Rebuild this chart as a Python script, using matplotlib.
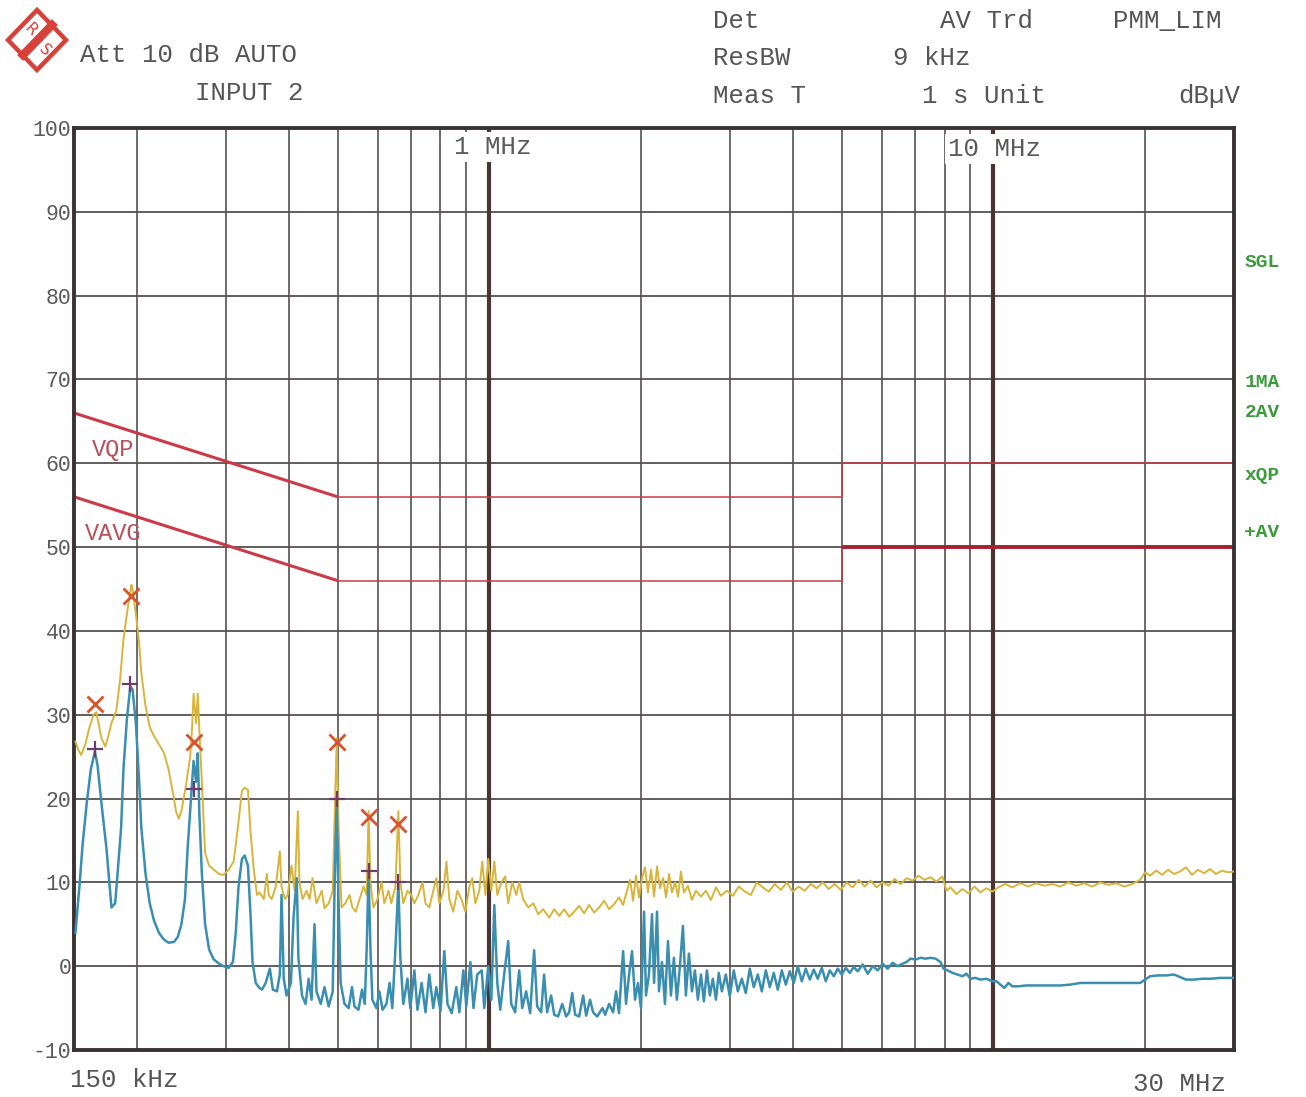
import matplotlib
matplotlib.use("Agg")
import matplotlib.pyplot as plt
import matplotlib.transforms as mtransforms
from matplotlib.patches import Polygon
from matplotlib.ticker import NullLocator

W, H = 1306, 1097
MONO = ["Liberation Mono", "DejaVu Sans Mono"]

# peak trace (yellow), MHz / dBuV
pk_freq = [0.151, 0.153, 0.155, 0.158, 0.161, 0.164, 0.166, 0.168, 0.170, 0.173,
           0.175, 0.178, 0.182, 0.185, 0.188, 0.192, 0.195, 0.196, 0.199, 0.202,
           0.204, 0.208, 0.212, 0.216, 0.221, 0.226, 0.231, 0.236, 0.239, 0.242,
           0.245, 0.250, 0.255, 0.257, 0.259, 0.262, 0.264, 0.266, 0.269, 0.273,
           0.278, 0.284, 0.291, 0.297, 0.304, 0.311, 0.317, 0.323, 0.327, 0.332,
           0.336, 0.341, 0.346, 0.350, 0.357, 0.362, 0.365, 0.370, 0.377, 0.384,
           0.387, 0.393, 0.398, 0.405, 0.411, 0.417, 0.420, 0.426, 0.434, 0.440,
           0.446, 0.454, 0.465, 0.471, 0.480, 0.489, 0.493, 0.498, 0.502, 0.509,
           0.518, 0.528, 0.535, 0.543, 0.553, 0.563, 0.571, 0.576, 0.581, 0.589,
           0.600, 0.611, 0.619, 0.631, 0.639, 0.651, 0.660, 0.666, 0.675, 0.688,
           0.700, 0.710, 0.723, 0.737, 0.747, 0.760, 0.774, 0.785, 0.796, 0.811,
           0.822, 0.833, 0.848, 0.864, 0.880, 0.896, 0.913, 0.925, 0.938, 0.955,
           0.968, 0.982, 0.995, 1.009, 1.023, 1.037, 1.056, 1.075, 1.090, 1.110,
           1.131, 1.146, 1.167, 1.194, 1.222, 1.250, 1.279, 1.314, 1.345, 1.376,
           1.407, 1.440, 1.473, 1.507, 1.542, 1.577, 1.614, 1.651, 1.689, 1.728,
           1.768, 1.808, 1.842, 1.875, 1.902, 1.928, 1.954, 1.981, 2.008, 2.036,
           2.064, 2.093, 2.122, 2.151, 2.181, 2.211, 2.242, 2.272, 2.303, 2.336,
           2.368, 2.399, 2.432, 2.477, 2.523, 2.569, 2.629, 2.689, 2.751, 2.815,
           2.879, 2.959, 3.041, 3.125, 3.212, 3.301, 3.392, 3.487, 3.583, 3.683,
           3.785, 3.890, 3.998, 4.108, 4.222, 4.340, 4.460, 4.583, 4.711, 4.841,
           4.976, 5.114, 5.256, 5.401, 5.551, 5.705, 5.863, 6.027, 6.193, 6.365,
           6.541, 6.723, 6.910, 7.100, 7.297, 7.500, 7.709, 7.923, 8.068, 8.216,
           8.444, 8.679, 8.920, 9.166, 9.421, 9.682, 9.952, 10.227, 10.559, 10.902,
           11.307, 11.727, 12.162, 12.615, 13.083, 13.568, 14.074, 14.594, 15.138, 15.699,
           16.281, 16.888, 17.513, 18.166, 18.840, 19.540, 19.990, 20.451, 21.018, 21.602,
           22.202, 22.818, 23.450, 24.096, 24.763, 25.451, 26.157, 26.883, 27.623, 28.389,
           29.180, 30.0]
pk_level = [26.8, 25.8, 25.2, 26.5, 28.5, 30.0, 30.3, 28.8, 27.2, 26.2,
            27.2, 29.0, 30.5, 34.0, 39.0, 43.0, 45.5, 45.0, 42.0, 38.5,
            35.0, 31.0, 28.5, 27.5, 26.5, 25.5, 23.5, 20.5, 18.5, 17.6,
            18.5, 21.5, 25.0, 28.0, 32.5, 29.0, 32.5, 28.0, 22.0, 13.5,
            12.0, 11.5, 11.0, 10.9, 11.5, 12.5, 16.5, 20.9, 21.3, 21.0,
            16.0, 11.5, 8.5, 8.8, 8.0, 11.0, 8.5, 8.0, 9.5, 13.7,
            9.5, 8.0, 8.5, 12.0, 9.0, 18.5, 10.0, 8.0, 9.0, 8.0,
            10.5, 7.5, 9.0, 6.9, 7.5, 9.0, 17.0, 27.2, 17.0, 7.0,
            7.5, 8.5, 7.0, 6.5, 8.0, 9.5, 8.5, 18.5, 10.0, 7.0,
            8.0, 10.0, 7.5, 9.0, 7.5, 9.5, 18.5, 10.0, 7.5, 9.0,
            8.5, 7.5, 8.5, 10.0, 7.5, 7.0, 9.0, 10.5, 7.5, 9.0,
            12.5, 8.0, 6.5, 9.0, 8.0, 6.5, 9.5, 10.5, 7.5, 9.0,
            12.5, 8.5, 12.8, 9.0, 12.5, 8.5, 10.0, 10.7, 7.5, 10.0,
            8.5, 10.0, 8.0, 7.0, 7.5, 6.2, 6.8, 5.8, 6.8, 6.0,
            6.8, 5.9, 6.5, 7.2, 6.3, 7.3, 6.4, 7.0, 7.8, 6.8,
            7.4, 8.2, 7.3, 9.0, 10.3, 7.8, 10.8, 8.2, 10.5, 11.8,
            8.8, 11.5, 8.3, 11.9, 9.3, 10.5, 8.2, 11.0, 8.8, 10.0,
            8.3, 11.3, 8.8, 9.6, 7.9, 9.0, 8.3, 9.0, 7.9, 9.4,
            8.4, 9.0, 8.4, 9.5, 8.9, 8.5, 10.0, 9.4, 8.9, 9.8,
            9.1, 10.0, 8.9, 9.5, 9.0, 9.8, 9.3, 10.0, 9.2, 9.8,
            9.1, 10.0, 9.4, 10.3, 9.5, 10.2, 9.4, 10.0, 9.6, 10.4,
            9.8, 10.5, 10.2, 10.8, 10.3, 10.6, 10.1, 10.7, 9.0, 9.4,
            8.6, 9.2, 8.7, 9.5, 8.8, 9.3, 8.9, 9.4, 9.8, 9.4,
            9.9, 9.5, 9.9, 9.6, 9.8, 9.5, 10.0, 9.6, 9.9, 9.5,
            10.0, 9.7, 9.9, 9.5, 9.8, 10.3, 11.2, 10.8, 11.4, 10.9,
            11.5, 11.0, 11.3, 11.8, 10.9, 11.5, 11.1, 11.6, 11.0, 11.4,
            11.2, 11.3]

# average trace (blue), MHz / dBuV
av_freq = [0.151, 0.152, 0.154, 0.156, 0.159, 0.162, 0.165, 0.167, 0.170, 0.174,
           0.176, 0.178, 0.181, 0.183, 0.186, 0.188, 0.191, 0.194, 0.196, 0.199,
           0.202, 0.204, 0.208, 0.212, 0.216, 0.221, 0.226, 0.231, 0.237, 0.241,
           0.245, 0.249, 0.252, 0.256, 0.259, 0.262, 0.264, 0.266, 0.269, 0.273,
           0.278, 0.284, 0.291, 0.297, 0.304, 0.310, 0.314, 0.318, 0.323, 0.327,
           0.332, 0.336, 0.339, 0.344, 0.350, 0.354, 0.360, 0.367, 0.372, 0.379,
           0.384, 0.387, 0.391, 0.396, 0.404, 0.409, 0.415, 0.418, 0.425, 0.432,
           0.438, 0.444, 0.450, 0.454, 0.463, 0.471, 0.480, 0.489, 0.493, 0.498,
           0.502, 0.507, 0.516, 0.526, 0.534, 0.540, 0.550, 0.559, 0.566, 0.571,
           0.576, 0.581, 0.586, 0.597, 0.605, 0.614, 0.625, 0.634, 0.642, 0.651,
           0.660, 0.666, 0.675, 0.688, 0.697, 0.710, 0.720, 0.734, 0.747, 0.760,
           0.774, 0.785, 0.800, 0.814, 0.826, 0.842, 0.860, 0.872, 0.888, 0.900,
           0.917, 0.930, 0.946, 0.966, 0.977, 0.995, 1.009, 1.023, 1.037, 1.051,
           1.070, 1.090, 1.105, 1.125, 1.146, 1.162, 1.183, 1.205, 1.227, 1.244,
           1.267, 1.284, 1.302, 1.326, 1.345, 1.369, 1.395, 1.420, 1.440, 1.460,
           1.480, 1.507, 1.535, 1.556, 1.584, 1.606, 1.636, 1.677, 1.697, 1.728,
           1.760, 1.784, 1.808, 1.842, 1.867, 1.893, 1.919, 1.945, 1.972, 1.999,
           2.027, 2.045, 2.073, 2.102, 2.122, 2.151, 2.170, 2.200, 2.230, 2.261,
           2.292, 2.323, 2.355, 2.388, 2.421, 2.454, 2.488, 2.523, 2.557, 2.592,
           2.629, 2.664, 2.701, 2.738, 2.775, 2.815, 2.852, 2.892, 2.945, 2.999,
           3.054, 3.111, 3.168, 3.226, 3.286, 3.346, 3.408, 3.471, 3.535, 3.600,
           3.666, 3.734, 3.803, 3.873, 3.944, 4.017, 4.091, 4.166, 4.243, 4.322,
           4.401, 4.482, 4.565, 4.649, 4.735, 4.822, 4.911, 5.001, 5.094, 5.187,
           5.283, 5.380, 5.504, 5.631, 5.761, 5.894, 6.027, 6.167, 6.309, 6.454,
           6.603, 6.723, 6.848, 7.006, 7.168, 7.333, 7.500, 7.675, 7.852, 7.960,
           8.106, 8.294, 8.485, 8.679, 8.839, 9.002, 9.209, 9.421, 9.682, 9.952,
           10.134, 10.320, 10.510, 10.704, 10.902, 11.203, 11.619, 12.051, 12.499, 12.964,
           13.568, 14.202, 14.864, 15.557, 16.281, 17.044, 18.366, 18.670, 19.540, 19.990,
           20.451, 21.216, 22.004, 22.818, 23.450, 24.096, 24.990, 25.920, 26.883, 28.140,
           29.180, 30.0]
av_level = [4.0, 6.0, 10.0, 14.5, 19.5, 23.5, 25.6, 24.0, 19.5, 14.0,
            10.5, 7.0, 7.5, 11.0, 16.5, 23.5, 29.5, 33.4, 33.0, 29.0,
            22.0, 16.5, 11.0, 7.5, 5.5, 4.0, 3.2, 2.8, 2.9, 3.5,
            5.0, 8.0, 14.0, 20.0, 24.5, 22.0, 25.4, 18.0, 11.0, 5.0,
            2.0, 0.8, 0.3, 0.0, -0.2, 0.5, 4.0, 9.5, 12.8, 13.2,
            12.0, 6.0, 0.5, -2.0, -2.6, -2.8, -2.0, -0.3, -2.8, -3.0,
            -1.0, 8.5, -1.5, -3.5, -2.0, 6.0, 10.5, 1.0, -3.5, -4.5,
            -1.5, -4.0, 5.0, -3.0, -4.5, -2.5, -4.8, -3.0, 9.0, 20.0,
            8.0, -2.0, -4.5, -5.0, -2.5, -4.8, -5.2, -2.8, -4.5, 2.0,
            11.3, 2.0, -4.0, -5.0, -3.0, -5.2, -4.5, -2.0, -5.0, 2.0,
            10.0, 1.0, -4.5, -1.5, -5.0, -0.5, -5.2, -2.0, -5.5, -1.0,
            -5.0, -2.5, -5.4, 1.8, -4.5, -5.6, -2.5, -5.5, -0.5, -4.8,
            0.5, -5.0, -1.0, -0.5, -5.0, 0.0, -4.0, 7.3, -2.0, -5.2,
            -1.0, 3.0, -4.5, -5.5, -0.5, -5.0, -3.0, -5.6, 1.9, -4.8,
            -5.5, -1.0, -5.5, -3.5, -5.8, -6.0, -4.5, -6.0, -5.5, -3.2,
            -5.8, -6.0, -3.5, -5.9, -4.0, -5.5, -6.0, -5.0, -5.8, -4.5,
            -5.5, -3.0, -5.6, 1.8, -4.5, -1.0, 1.8, -4.0, -2.0, -5.0,
            6.5, -3.5, -1.0, 6.2, -2.0, 6.5, -3.0, 0.5, -4.5, 3.0,
            -3.5, 1.0, -4.0, 0.0, 4.8, -3.5, 1.5, -3.0, -0.5, -4.0,
            -1.0, -4.2, -0.5, -3.5, -1.5, -4.0, -0.8, -3.0, -1.0, -3.6,
            -0.5, -3.0, -1.5, -3.2, -0.3, -2.5, -1.0, -3.0, -0.5, -2.5,
            -0.8, -2.8, -0.5, -2.2, -0.6, -2.0, 0.0, -1.8, -0.3, -1.6,
            -0.4, -1.5, -0.2, -1.8, -0.5, -1.2, -0.3, -1.0, -0.2, -0.8,
            -0.1, -0.6, 0.2, -0.9, 0.0, -0.5, 0.3, -0.3, 0.4, 0.0,
            0.3, 0.5, 0.9, 0.8, 1.0, 0.9, 1.0, 0.9, 0.5, -0.3,
            -0.5, -0.8, -1.0, -1.2, -0.9, -1.5, -1.4, -1.6, -1.5, -1.8,
            -1.8, -2.2, -2.6, -2.0, -2.4, -2.4, -2.3, -2.3, -2.3, -2.3,
            -2.3, -2.2, -2.0, -2.0, -2.0, -2.0, -2.0, -2.0, -2.0, -1.6,
            -1.2, -1.1, -1.1, -1.0, -1.3, -1.6, -1.6, -1.5, -1.5, -1.4,
            -1.4, -1.4]

# final measurement markers
qp_mark_freq = [0.165, 0.195, 0.260, 0.498, 0.576, 0.660]
qp_mark_level = [31.3, 44.2, 26.7, 26.8, 17.8, 17.0]
av_mark_freq = [0.165, 0.194, 0.260, 0.498, 0.576, 0.660]
av_mark_level = [25.9, 33.7, 21.1, 20.0, 11.3, 10.1]

# limit lines
lim_seg_freq = [(0.15, 0.5), (0.5, 5.0), (5.0, 5.0), (5.0, 30.0)]
vqp_seg_level = [(66, 56), (56, 56), (56, 60), (60, 60)]
vavg_seg_level = [(56, 46), (46, 46), (46, 50), (50, 50)]

grid_levels = [-10, 0, 10, 20, 30, 40, 50, 60, 70, 80, 90, 100]
grid_minor_freq = [0.2, 0.3, 0.4, 0.5, 0.6, 0.7, 0.8, 0.9,
                   2, 3, 4, 5, 6, 7, 8, 9, 20]
grid_major_freq = [1, 10]

side_labels = ["SGL", "1MA", "2AV", "xQP", "+AV"]
side_levels = [83.9, 69.6, 66.0, 58.5, 51.7]

header = [("Att 10 dB AUTO", 80, 55), ("INPUT 2", 195, 93),
          ("Det", 713, 21), ("AV Trd", 940, 21), ("PMM_LIM", 1113, 21),
          ("ResBW", 713, 58), ("9 kHz", 893, 58),
          ("Meas T", 713, 96), ("1 s Unit", 922, 96), ("dBµV", 1178, 96),
          ("150 kHz", 70, 1080), ("30 MHz", 1133, 1084)]

fig = plt.figure(figsize=(W / 100, H / 100), dpi=100)
fig.patch.set_facecolor("white")
ax = fig.add_axes([74 / W, 1 - 1050 / H, 1160 / W, 922 / H])
ax.set_xscale("log")
ax.set_xlim(0.15, 30)
ax.set_ylim(-10, 100)
ax.xaxis.set_major_locator(NullLocator())
ax.xaxis.set_minor_locator(NullLocator())
ax.set_yticks(grid_levels)
ax.set_yticklabels([str(v) for v in grid_levels], family=MONO, fontsize=15.5, color="#5a5a5a")
ax.tick_params(axis="y", length=0, pad=2)
for side in ax.spines.values():
    side.set_linewidth(2.8)
    side.set_color("#3a3232")

grid_color = "#555050"
for lv in grid_levels[1:-1]:
    ax.axhline(lv, color=grid_color, lw=1.3, zorder=1)
for f in grid_minor_freq:
    ax.axvline(f, color=grid_color, lw=1.2, zorder=1)
for f in grid_major_freq:
    ax.axvline(f, color="#4a3434", lw=3.0, zorder=1)

# limit lines
lim_red = "#cc3a48"
seg_widths = [2.2, 1.1, 1.1, 1.1]
for (fa, fb), (qa, qb), (va, vb), lw in zip(lim_seg_freq, vqp_seg_level, vavg_seg_level, seg_widths):
    ax.plot([fa, fb], [qa, qb], color=lim_red, lw=lw, zorder=2, solid_capstyle="butt")
    ax.plot([fa, fb], [va, vb], color=lim_red if fb < 30 else "#a8202e",
            lw=lw if fb < 30 else 2.8, zorder=2, solid_capstyle="butt")
ax.text(0.163, 61.7, "VQP", family=MONO, fontsize=17, color="#b8505c", va="center", ha="left")
ax.text(0.158, 51.6, "VAVG", family=MONO, fontsize=17, color="#b8505c", va="center", ha="left")

# traces
ax.plot(pk_freq, pk_level, color="#d8b53a", lw=1.4, zorder=3)
ax.plot(av_freq, av_level, color="#3a8eb0", lw=1.8, zorder=4)
ax.plot(qp_mark_freq, qp_mark_level, ls="none", marker="x", ms=12, mew=2.0,
        color="#d9542b", zorder=5)
ax.plot(av_mark_freq, av_mark_level, ls="none", marker="+", ms=12, mew=1.6,
        color="#6e3b6e", zorder=5)

# frequency captions inside the grid (white box hides the grid behind them)
cap_tr = mtransforms.blended_transform_factory(ax.transData, ax.transAxes)
cap_box = dict(boxstyle="square,pad=0.12", fc="white", ec="none")
ax.text(0.852, 0.979, "1 MHz", transform=cap_tr, family=MONO, fontsize=18.5,
        color="#5a5a5a", va="center", ha="left", bbox=cap_box, zorder=6)
ax.text(8.14, 0.977, "10 MHz", transform=cap_tr, family=MONO, fontsize=18.5,
        color="#5a5a5a", va="center", ha="left", bbox=cap_box, zorder=6)

side_tr = mtransforms.blended_transform_factory(ax.transAxes, ax.transData)
for lab, lv in zip(side_labels, side_levels):
    ax.text(1.009, lv, lab, transform=side_tr, family=MONO, fontsize=14, fontweight="bold",
            color="#3c9a3c", va="center", ha="left")

for txt, x, y in header:
    fig.text(x / W, 1 - y / H, txt, family=MONO, fontsize=18.5, color="#555555",
             va="center", ha="left")

# R&S logo
def px(x, y):
    return (x / W, 1 - y / H)

diamond = Polygon([px(8, 40), px(37, 10), px(66, 40), px(37, 70)], closed=True,
                  fill=False, ec="#d8403a", lw=3.2, transform=fig.transFigure)
fig.patches.append(diamond)
fig.lines.append(plt.Line2D([px(23, 55)[0], px(52, 25)[0]], [px(23, 55)[1], px(52, 25)[1]],
                            color="#d8403a", lw=6, transform=fig.transFigure))
fig.text(*px(30, 30), "R", family=["DejaVu Sans"], fontsize=11, color="#d8403a",
         rotation=-45, ha="center", va="center")
fig.text(*px(45, 50), "S", family=["DejaVu Sans"], fontsize=11, color="#d8403a",
         rotation=-45, ha="center", va="center")

fig.savefig("out.png", dpi=100, facecolor="white")
